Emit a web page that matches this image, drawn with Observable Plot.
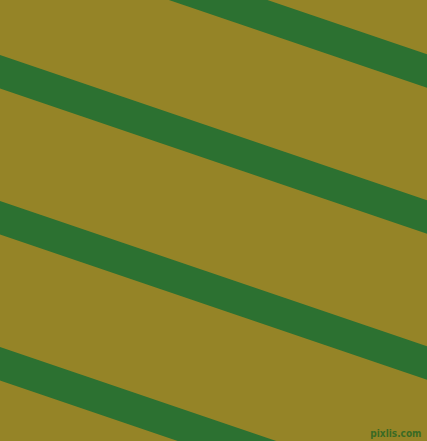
<!DOCTYPE html>
<html>
<head>
<meta charset="utf-8">
<script src="https://cdn.jsdelivr.net/npm/d3@7"></script>
<script src="https://cdn.jsdelivr.net/npm/@observablehq/plot@0.6"></script>
<style>
  html, body { margin: 0; padding: 0; background: #958427; overflow: hidden; }
  svg { display: block; }
</style>
</head>
<body>
<div id="chart"></div>
<script>
// Stripe centre lines: y at x=0 (pixels from top) and common slope
const stripeCenters = [-74.5, 71.5, 217.5, 363.5];
const stripeSlope = 0.34;
const stripeVerticalThickness = 33.5;
const backgroundColor = "#958427";
const stripeColor = "#2c7131";
const watermark = "pixlis.com";

const W = 427, H = 441;
const xStart = -30, xEnd = W + 30;
const stripes = stripeCenters.map(c => ({
  x1: xStart, y1: c + stripeSlope * xStart,
  x2: xEnd, y2: c + stripeSlope * xEnd
}));
const perp = stripeVerticalThickness / Math.sqrt(1 + stripeSlope * stripeSlope);

const chart = Plot.plot({
  width: W,
  height: H,
  margin: 0,
  style: { background: backgroundColor, overflow: "hidden" },
  x: { domain: [0, W], range: [0, W], axis: null },
  y: { domain: [0, H], range: [0, H], axis: null },
  marks: [
    Plot.link(stripes, {
      x1: "x1", y1: "y1", x2: "x2", y2: "y2",
      stroke: stripeColor, strokeWidth: perp, strokeLinecap: "butt", clip: true
    }),
    Plot.text([watermark], {
      frameAnchor: "bottom-right", dx: -6, dy: -5,
      text: d => d, fill: "#3a6a24", fontSize: 10, fontWeight: "bold",
      fontFamily: "'Liberation Sans Narrow', 'DejaVu Sans Condensed', sans-serif"
    })
  ]
});
document.getElementById("chart").append(chart);
</script>
</body>
</html>
